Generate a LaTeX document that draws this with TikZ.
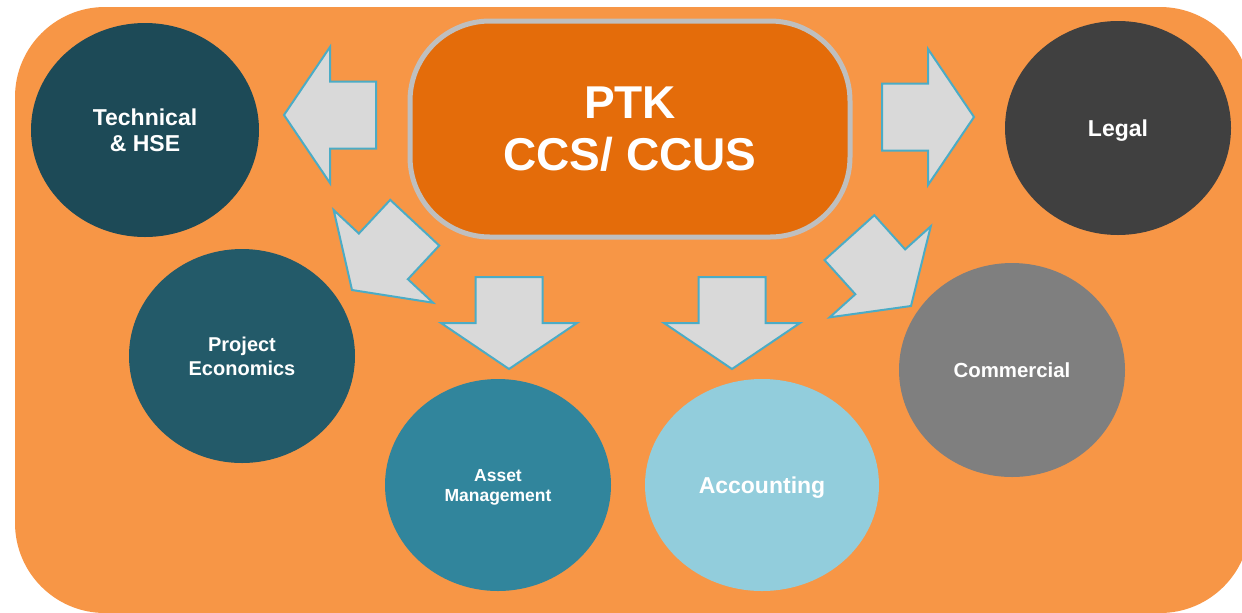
\documentclass[tikz,border=0pt]{standalone}
\usepackage{fontspec}
\setmainfont{Liberation Sans}
\usetikzlibrary{shapes.geometric}
\definecolor{bgorange}{HTML}{F79646}
\definecolor{huborange}{HTML}{E46C0A}
\definecolor{hubline}{HTML}{BFBFBF}
\definecolor{arrowfill}{HTML}{D9D9D9}
\definecolor{arrowline}{HTML}{4BACC6}
\definecolor{techcol}{HTML}{1D4A57}
\definecolor{econcol}{HTML}{235A69}
\definecolor{assetcol}{HTML}{31859C}
\definecolor{acctcol}{HTML}{92CDDC}
\definecolor{commcol}{HTML}{7F7F7F}
\definecolor{legalcol}{HTML}{404040}
\tikzset{bubble/.style = {shape = ellipse, inner sep = 0pt, text depth = 0pt, minimum width = 113pt, minimum height = 107pt, text = white, align = center}}
\tikzset{hub/.style = {shape = rectangle, rounded corners = 40pt, draw = hubline, line width = 2.5pt, fill = huborange, minimum width = 220pt, minimum height = 108pt, text = white, align = center}}
\tikzset{bigarrow/.pic = {\draw[draw = arrowline, fill = arrowfill, line width = 1pt, line join = miter] (0, 0) -- (-46, -68) -- (-46, -33.5) -- (-92, -33.5) -- (-92, 33.5) -- (-46, 33.5) -- (-46, 68) -- cycle;}}

\begin{document}
\begin{tikzpicture}[x = 0.5pt, y = -0.5pt]
			\useasboundingbox (0, 0) rectangle (1242, 612);
			\clip (0, 0) rectangle (1242, 612);
			\fill[white] (0, 0) rectangle (1242, 612);
			\fill[bgorange, rounded corners = 45pt] (15, 7) rectangle (1250, 613);

			\node[hub, font = \fontsize{23}{26}\selectfont\bfseries] (ptk) at (630, 129) {PTK\\CCS/ CCUS};

			\node[bubble, fill = techcol, minimum width = 114pt, font = \fontsize{11.5}{13}\selectfont\bfseries] (tech) at (145, 130) {Technical\\\& HSE};
			\node[bubble, fill = legalcol, font = \fontsize{11.5}{13}\selectfont\bfseries] (legal) at (1118, 128) {Legal};
			\node[bubble, fill = econcol, font = \fontsize{10}{12}\selectfont\bfseries] (econ) at (242, 356) {Project\\Economics};
			\node[bubble, fill = assetcol, minimum height = 106pt, font = \fontsize{8.75}{10}\selectfont\bfseries] (asset) at (498, 485) {Asset\\Management};
			\node[bubble, fill = acctcol, minimum width = 117pt, minimum height = 106pt, font = \fontsize{11.5}{13}\selectfont\bfseries] (acct) at (762, 485) {Accounting};
			\node[bubble, fill = commcol, font = \fontsize{10.2}{12}\selectfont\bfseries] (comm) at (1012, 370) {Commercial};

			\pic[rotate = 180] (a1) at (284, 115) {bigarrow};
			\pic[rotate = 0] (a2) at (974, 117) {bigarrow};
			\pic[rotate = -133] (a3) at (352, 290) {bigarrow};
			\pic[rotate = -90] (a4) at (509, 369) {bigarrow};
			\pic[rotate = -90] (a5) at (732, 369) {bigarrow};
			\pic[rotate = -48] (a6) at (911, 306) {bigarrow};
		\end{tikzpicture}
\end{document}
